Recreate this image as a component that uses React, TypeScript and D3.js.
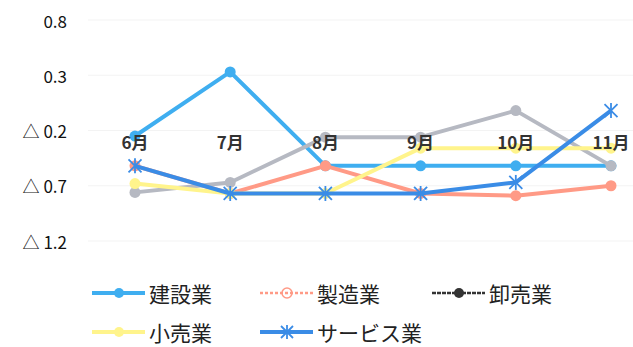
import React from "react";
import * as d3 from "d3";

const months = ["6月", "7月", "8月", "9月", "10月", "11月"];
const yTicks = [0.8, 0.3, -0.2, -0.7, -1.2];
const seriesNames = ["建設業", "製造業", "卸売業", "小売業", "サービス業"];
const kensetsu = [-0.25, 0.33, -0.52, -0.52, -0.52, -0.52];
const seizou = [-0.52, -0.77, -0.52, -0.77, -0.79, -0.7];
const oroshi = [-0.76, -0.67, -0.26, -0.26, -0.02, -0.52];
const kouri = [-0.68, -0.77, -0.77, -0.36, -0.36, -0.36];
const service = [-0.52, -0.77, -0.77, -0.77, -0.67, -0.02];

const colors = ["#3FAEF0", "#FF9A86", "#B6B9C2", "#FFF48C", "#3A8CE6"];
const markers = ["circle", "circle", "circle", "circle", "star"];
const seriesData = [kensetsu, seizou, oroshi, kouri, service];

const fmt = (v: number) => (v < 0 ? "△ " + Math.abs(v).toFixed(1) : v.toFixed(1));

function Marker({ type, x, y, color, r = 5 }: any) {
  if (type === "star") {
    const s = r + 1;
    return (
      <g stroke={color} strokeWidth={1.8}>
        <line x1={x - s} y1={y - s} x2={x + s} y2={y + s} />
        <line x1={x - s} y1={y + s} x2={x + s} y2={y - s} />
        <line x1={x} y1={y - s - 1} x2={x} y2={y + s + 1} />
      </g>
    );
  }
  return <circle cx={x} cy={y} r={r} fill={color} />;
}

export default function App() {
  const x = d3.scalePoint<string>().domain(months).range([135, 611]);
  const y = d3.scaleLinear().domain([-1.2, 0.8]).range([241, 20]);
  const line = d3
    .line<number>()
    .x((_, i) => x(months[i]) as number)
    .y((d) => y(d));
  const font = "'Noto Sans CJK JP', 'Noto Sans', sans-serif";

  const legendItems = [
    { i: 0, lx: 92, ly: 293 },
    { i: 1, lx: 260, ly: 293 },
    { i: 2, lx: 432, ly: 293 },
    { i: 3, lx: 92, ly: 332 },
    { i: 4, lx: 260, ly: 332 },
  ];

  return (
    <svg
      width={633}
      height={347}
      style={{ position: "absolute", left: 0, top: 0, background: "#fff" }}
      fontFamily={font}
    >
      {yTicks.map((t) => (
        <g key={t}>
          <line x1={88} x2={633} y1={y(t)} y2={y(t)} stroke="#f3f3f3" strokeWidth={1} />
          <text x={67} y={y(t)} textAnchor="end" dominantBaseline="central" fontSize={17} fill="#111">
            {fmt(t)}
          </text>
        </g>
      ))}
      {seriesData.map((d, si) => (
        <g key={si}>
          <path d={line(d) || ""} fill="none" stroke={colors[si]} strokeWidth={4} strokeLinejoin="round" />
          {d.map((v, i) => (
            <Marker key={i} type={markers[si]} x={x(months[i])} y={y(v)} color={colors[si]} r={5.5} />
          ))}
        </g>
      ))}
      {months.map((m) => (
        <text
          key={m}
          x={x(m)}
          y={141}
          textAnchor="middle"
          dominantBaseline="central"
          fontSize={17}
          fontWeight={600}
          fill="#333"
        >
          {m}
        </text>
      ))}
      {legendItems.map(({ i, lx, ly }) => {
        const lc = i === 2 ? "#333" : colors[i];
        return (
          <g key={i}>
            <line
              x1={lx}
              x2={lx + 53}
              y1={ly}
              y2={ly}
              stroke={lc}
              strokeWidth={i === 1 || i === 2 ? 2.5 : 4}
              strokeDasharray={i === 1 ? "3 2" : i === 2 ? "4 1" : undefined}
            />
            {i === 1 ? (
              <circle cx={lx + 27} cy={ly} r={5} fill="none" stroke={lc} strokeWidth={1.5} />
            ) : (
              <Marker type={markers[i]} x={lx + 27} y={ly} color={lc} r={5} />
            )}
            <text x={lx + 57} y={ly} dominantBaseline="central" fontSize={21} fill="#222">
              {seriesNames[i]}
            </text>
          </g>
        );
      })}
    </svg>
  );
}
